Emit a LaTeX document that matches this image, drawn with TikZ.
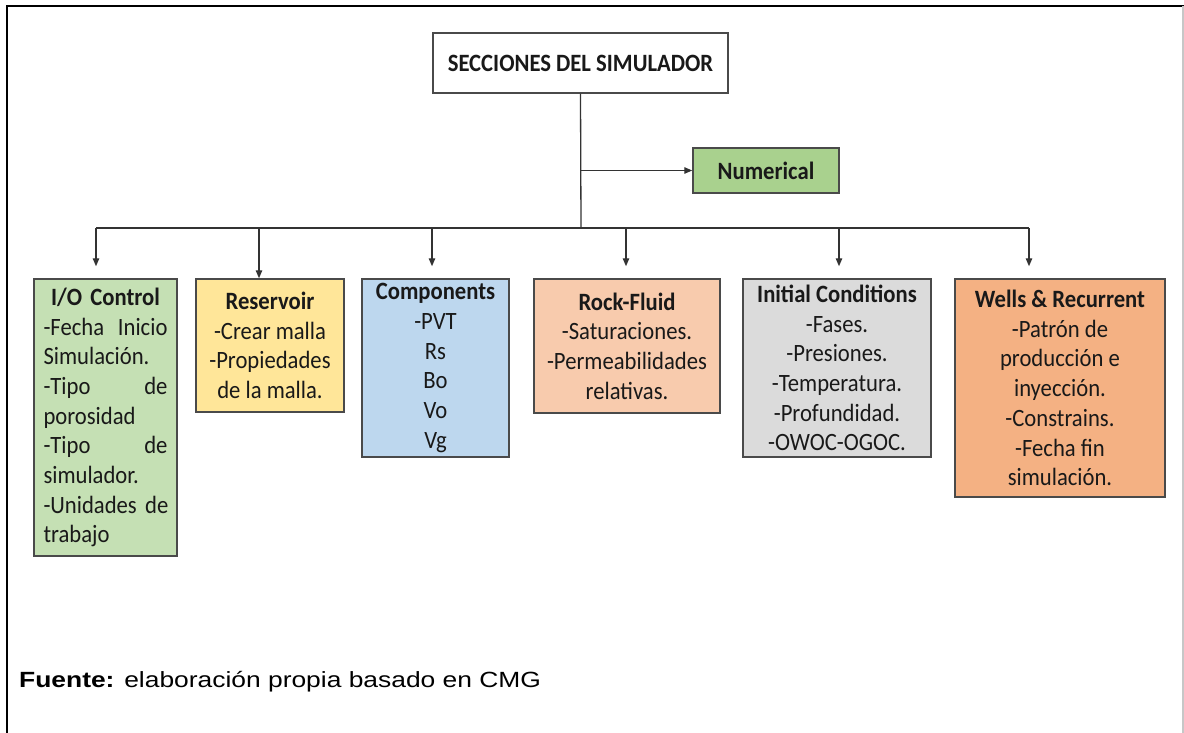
\documentclass[tikz,border=0pt]{standalone}
\usepackage{fontspec}
\setmainfont{Carlito}[FakeStretch=0.91]
\newfontfamily\arialf{Liberation Sans}[FakeStretch=1.2]
\usetikzlibrary{arrows.meta}
\definecolor{ioGreen}{HTML}{C5E0B4}
\definecolor{numGreen}{HTML}{A9D18E}
\definecolor{resYellow}{HTML}{FFE699}
\definecolor{compBlue}{HTML}{BDD7EE}
\definecolor{rockSalmon}{HTML}{F8CBAD}
\definecolor{initGray}{HTML}{DBDBDB}
\definecolor{wellOrange}{HTML}{F4B183}
\definecolor{edgeGray}{HTML}{4A4A4A}
% a justified line: first word at the left edge, last word at the right edge
\newcommand\jline[2]{\leavevmode\hbox to 124pt{#1\hfill #2}}
\begin{document}
\begin{tikzpicture}[x=1pt,y=-1pt,
  box/.style={draw=edgeGray, line width=1.5pt, inner sep=0pt, align=center,
    text=black!90, font=\fontsize{24.9}{29.7}\selectfont},
  conn/.style={draw=black!80, line width=1.3pt},
  arr/.style={conn, -{Triangle[length=8pt,width=6.5pt]}}]
\useasboundingbox (0,0) rectangle (1184,733);

% page frame
\draw[line width=2.5pt] (7,733) -- (7,6) -- (1184,6);
\draw[black!22, line width=1.2pt] (1183,6) -- (1183,733);

% boxes
\node[box, fill=white, minimum width=295pt, minimum height=60pt] (title) at (580.5,63)
  {\textbf{SECCIONES DEL SIMULADOR}};
\node[box, fill=numGreen, minimum width=146pt, minimum height=45pt] (num) at (766,170.5)
  {\textbf{Numerical}};

\node[box, fill=ioGreen, minimum width=143pt, minimum height=277pt, text width=124pt, align=left] (io) at (105.5,417.5)
  {\centering\textbf{I/O Control}\par
   \raggedright \jline{-Fecha}{Inicio}\\ Simulación.\\ \jline{-Tipo}{de}\\ porosidad\\
   \jline{-Tipo}{de}\\ simulador.\\ \mbox{-Unidades de}\\ trabajo};
\node[box, fill=resYellow, minimum width=148pt, minimum height=133pt] (res) at (270,345.5)
  {\textbf{Reservoir}\\-Crear malla\\-Propiedades\\de la malla.};
\node[box, fill=compBlue, minimum width=147pt, minimum height=178pt] (comp) at (435.5,368)
  {\textbf{Components}\\-PVT\\Rs\\Bo\\Vo\\Vg};
\node[box, fill=rockSalmon, minimum width=186pt, minimum height=134pt] (rock) at (627,346)
  {\textbf{Rock-Fluid}\\-Saturaciones.\\-Permeabilidades\\relativas.};
\node[box, fill=initGray, minimum width=188pt, minimum height=178pt] (init) at (837,368)
  {\textbf{Initial Conditions}\\-Fases.\\-Presiones.\\-Temperatura.\\-Profundidad.\\-OWOC-OGOC.};
\node[box, fill=wellOrange, minimum width=210pt, minimum height=218pt] (well) at (1060,388)
  {\textbf{Wells \& Recurrent}\\-Patrón de\\producción e\\inyección.\\-Constrains.\\-Fecha fin\\simulación.};

% trunk, branch and bus
\coordinate (bus) at (581,228);
\coordinate (d1) at (96,228);
\coordinate (d2) at (259,228);
\coordinate (d3) at (432,228);
\coordinate (d4) at (626,228);
\coordinate (d5) at (839,228);
\coordinate (d6) at (1029,228);

\draw[conn] (title.south) -- (bus);
\draw[arr] (bus |- num.west) -- (num.west);
\draw[conn] (d1) -- (d6);

\draw[arr, shorten >=12pt] (d1) -- (d1 |- io.north);
\draw[arr] (d2) -- (d2 |- res.north);
\draw[arr, shorten >=12pt] (d3) -- (d3 |- comp.north);
\draw[arr, shorten >=12pt] (d4) -- (d4 |- rock.north);
\draw[arr, shorten >=12pt] (d5) -- (d5 |- init.north);
\draw[arr, shorten >=12pt] (d6) -- (d6 |- well.north);

% source line
\node[anchor=base west, inner sep=0pt, font=\arialf\fontsize{22}{26}\selectfont] (src) at (19,687)
  {\textbf{Fuente:} elaboración propia basado en CMG};
\end{tikzpicture}
\end{document}
